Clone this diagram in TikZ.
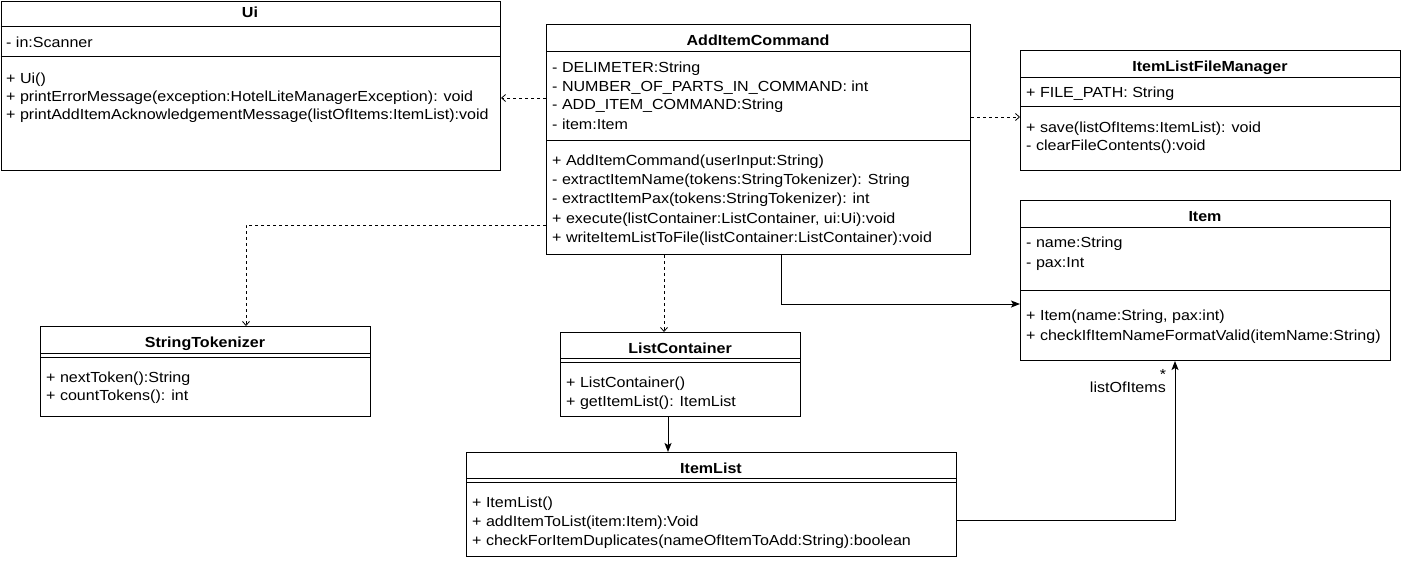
\documentclass[tikz,border=0pt]{standalone}
\usepackage{fontspec}
\setmainfont{Liberation Sans}[FakeStretch=1.1]
\usetikzlibrary{arrows.meta}
\newcommand{\fsz}{\fontsize{14.6}{17}\selectfont}
\tikzset{
  cls/.style={draw, line width=1pt, anchor=north west, inner sep=0pt, fill=white},
  txt/.style={anchor=base west, inner sep=0pt, font=\fsz},
  ttl/.style={anchor=base, inner sep=0pt, font=\fsz\bfseries},
  sepline/.style={line width=1pt},
  dep/.style={line width=0.8pt, dash pattern=on 3pt off 3pt, -{Straight Barb[length=4pt,width=7pt,line width=0.8pt]}},
  assoc/.style={line width=1pt, -{Stealth[length=9pt,width=7pt,inset=2pt]}},
  lbl/.style={inner sep=0pt, font=\fsz},
}
\begin{document}
\begin{tikzpicture}[x=1pt,y=-1pt]
\useasboundingbox (0,0) rectangle (1401,560);
% ---------------- Ui
\node[cls, minimum width=499.5pt, minimum height=169.5pt] (ui) at (0.5,0.5) {};
\draw[sepline] (0.5,26) -- (500,26);
\draw[sepline] (0.5,56.5) -- (500,56.5);
\node[ttl] (uit) at (250,17.5) {Ui};
\node[txt] (uia1) at (6,47.5) {- in:Scanner};
\node[txt] (uim1) at (6,83) {+ Ui()};
\node[txt] (uim2) at (6,101) {+ printErrorMessage(exception:HotelLiteManagerException): void};
\node[txt] (uim3) at (6,119) {+ printAddItemAcknowledgementMessage(listOfItems:ItemList):void};
% ---------------- AddItemCommand
\node[cls, minimum width=424pt, minimum height=230pt] (aic) at (546,24) {};
\draw[sepline] (546,51) -- (970,51);
\draw[sepline] (546,140) -- (970,140);
\node[ttl] (aict) at (758,45.5) {AddItemCommand};
\node[txt] (aica1) at (552,72.5) {- DELIMETER:String};
\node[txt] (aica2) at (552,91.5) {- NUMBER\_OF\_PARTS\_IN\_COMMAND: int};
\node[txt] (aica3) at (552,109.5) {- ADD\_ITEM\_COMMAND:String};
\node[txt] (aica4) at (552,129.5) {- item:Item};
\node[txt] (aicm1) at (552,165.5) {+ AddItemCommand(userInput:String)};
\node[txt] (aicm2) at (552,184.5) {- extractItemName(tokens:StringTokenizer): String};
\node[txt] (aicm3) at (552,203.5) {- extractItemPax(tokens:StringTokenizer): int};
\node[txt] (aicm4) at (552,223) {+ execute(listContainer:ListContainer, ui:Ui):void};
\node[txt] (aicm5) at (552,242) {+ writeItemListToFile(listContainer:ListContainer):void};
% ---------------- ItemListFileManager
\node[cls, minimum width=380pt, minimum height=120pt] (ilfm) at (1020,50) {};
\draw[sepline] (1020,77) -- (1400,77);
\draw[sepline] (1020,106) -- (1400,106);
\node[ttl] (ilfmt) at (1210,71.5) {ItemListFileManager};
\node[txt] (ilfma1) at (1026,97) {+ FILE\_PATH: String};
\node[txt] (ilfmm1) at (1026,132) {+ save(listOfItems:ItemList): void};
\node[txt] (ilfmm2) at (1026,150) {- clearFileContents():void};
% ---------------- Item
\node[cls, minimum width=370pt, minimum height=160pt] (item) at (1020,200) {};
\draw[sepline] (1020,227) -- (1390,227);
\draw[sepline] (1020,290) -- (1390,290);
\node[ttl] (itemt) at (1205,221.5) {Item};
\node[txt] (itema1) at (1026,247) {- name:String};
\node[txt] (itema2) at (1026,267) {- pax:Int};
\node[txt] (itemm1) at (1026,320) {+ Item(name:String, pax:int)};
\node[txt] (itemm2) at (1026,340) {+ checkIfItemNameFormatValid(itemName:String)};
% ---------------- StringTokenizer
\node[cls, minimum width=330pt, minimum height=90pt] (st) at (40,326) {};
\draw[sepline] (40,353) -- (370,353);
\draw[sepline] (40,357) -- (370,357);
\node[ttl] (stt) at (205,347.5) {StringTokenizer};
\node[txt] (stm1) at (46,382) {+ nextToken():String};
\node[txt] (stm2) at (46,400) {+ countTokens(): int};
% ---------------- ListContainer
\node[cls, minimum width=240pt, minimum height=84pt] (lc) at (560,332) {};
\draw[sepline] (560,358) -- (800,358);
\draw[sepline] (560,362) -- (800,362);
\node[ttl] (lct) at (680,353.5) {ListContainer};
\node[txt] (lcm1) at (566,387) {+ ListContainer()};
\node[txt] (lcm2) at (566,406) {+ getItemList(): ItemList};
% ---------------- ItemList
\node[cls, minimum width=490pt, minimum height=104pt] (il) at (466,452) {};
\draw[sepline] (466,478.5) -- (956,478.5);
\draw[sepline] (466,482.5) -- (956,482.5);
\node[ttl] (ilt) at (711,473.5) {ItemList};
\node[txt] (ilm1) at (472,507) {+ ItemList()};
\node[txt] (ilm2) at (472,526) {+ addItemToList(item:Item):Void};
\node[txt] (ilm3) at (472,545) {+ checkForItemDuplicates(nameOfItemToAdd:String):boolean};
% ---------------- connectors
\draw[dep] (aic.west |- 0,98) -- (ui.east |- 0,98);
\draw[dep] (aic.east |- 0,117) -- (ilfm.west |- 0,117);
\draw[dep] (aic.west |- 0,225) -| (st.north -| 246,0);
\draw[dep] (aic.south -| 664,0) -- (lc.north -| 664,0);
\draw[assoc] (aic.south -| 781,0) |- (item.west |- 0,304);
\draw[assoc] (lc.south -| 668,0) -- (il.north -| 668,0);
\draw[assoc] (il.east |- 0,520) -| (item.south -| 1175,0);
\node[lbl, anchor=center] (mult) at (1163,374) {*};
\node[lbl, anchor=base east] (role) at (1166,392) {listOfItems};
\end{tikzpicture}
\end{document}
